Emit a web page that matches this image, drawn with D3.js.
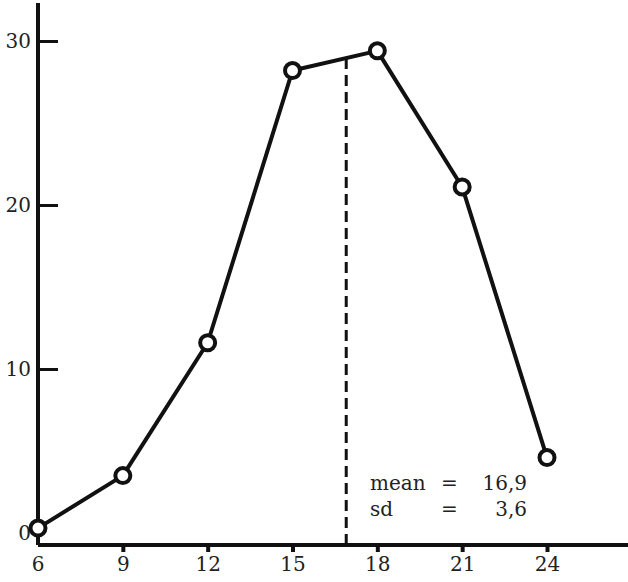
<html>
<head>
<meta charset="utf-8">
<script src="https://d3js.org/d3.v7.min.js"></script>
<style>
  body { margin: 0; background: #fff; }
  svg text { font-family: "DejaVu Serif", "Liberation Serif", serif !important; fill: #222; }
</style>
</head>
<body>
<div id="chartContainer"></div>
<script type="text/javascript">

  // data
  var ages = [6, 9, 12, 15, 18, 21, 24];
  var percents = [0.3, 3.5, 11.6, 28.2, 29.4, 21.1, 4.6];
  var xTicks = [6, 9, 12, 15, 18, 21, 24];
  var yTicks = [0, 10, 20, 30];
  var meanValue = 16.9;
  var statLabels = ["mean", "sd"];
  var statValues = ["16,9", "3,6"];

  var width = 628, height = 582;
  var axisY = 545, axisX = 38;
  var fontSize = "20px";

  var svg = d3.select("#chartContainer")
    .append("svg")
    .attr("width", width)
    .attr("height", height);

  var x = d3.scaleLinear().domain([6, 24]).range([38, 547]);
  var y = d3.scaleLinear().domain([0, 30]).range([533, 41]);

  // x axis: line to the right edge, short ticks pointing down
  var xAxis = d3.axisBottom(x)
    .tickValues(xTicks.slice(1))
    .tickSize(7)
    .tickSizeOuter(0)
    .tickFormat(d3.format("d"));
  var gx = svg.append("g")
    .attr("transform", "translate(0," + axisY + ")")
    .call(xAxis)
    .attr("font-family", null)
    .attr("font-size", null);
  gx.select(".domain").remove();
  gx.selectAll("line").attr("stroke", "#111").attr("stroke-width", 4);
  gx.selectAll("text")
    .attr("y", 12)
    .attr("dy", "0.71em")
    .style("font-size", fontSize);

  // tick label for 6 sits under the corner
  gx.append("text")
    .attr("x", x(6))
    .attr("y", 12)
    .attr("dy", "0.71em")
    .attr("text-anchor", "middle")
    .style("font-size", fontSize)
    .text(xTicks[0]);

  svg.append("line")
    .attr("x1", axisX).attr("x2", width)
    .attr("y1", axisY).attr("y2", axisY)
    .attr("stroke", "#111").attr("stroke-width", 4);

  // y axis: ticks pointing inward
  var yAxis = d3.axisLeft(y)
    .tickValues(yTicks)
    .tickSize(-20)
    .tickSizeOuter(0);
  var gy = svg.append("g")
    .attr("transform", "translate(" + axisX + ",0)")
    .call(yAxis)
    .attr("font-family", null)
    .attr("font-size", null);
  gy.select(".domain").remove();
  gy.selectAll("line")
    .attr("stroke", "#111")
    .attr("stroke-width", 3)
    .style("display", function(d) { return d === 0 ? "none" : null; });
  gy.selectAll("text")
    .attr("x", -7)
    .style("font-size", fontSize);

  svg.append("line")
    .attr("x1", axisX).attr("x2", axisX)
    .attr("y1", 3).attr("y2", axisY)
    .attr("stroke", "#111").attr("stroke-width", 4);

  // dashed line at the mean, up to the polyline
  var i = d3.bisectRight(ages, meanValue) - 1;
  var t = (meanValue - ages[i]) / (ages[i + 1] - ages[i]);
  var meanPct = percents[i] + t * (percents[i + 1] - percents[i]);
  svg.append("line")
    .attr("x1", x(meanValue)).attr("x2", x(meanValue))
    .attr("y1", axisY).attr("y2", y(meanPct))
    .attr("stroke", "#111")
    .attr("stroke-width", 3)
    .attr("stroke-dasharray", "11,6");

  // the frequency polygon
  var points = ages.map(function(a, k) { return {age: a, pct: percents[k]}; });
  var line = d3.line()
    .x(function(d) { return x(d.age); })
    .y(function(d) { return y(d.pct); });
  svg.append("path")
    .datum(points)
    .attr("d", line)
    .attr("fill", "none")
    .attr("stroke", "#111")
    .attr("stroke-width", 4)
    .attr("stroke-linejoin", "round");

  svg.selectAll("circle.pt")
    .data(points)
    .enter()
    .append("circle")
    .attr("class", "pt")
    .attr("cx", function(d) { return x(d.age); })
    .attr("cy", function(d) { return y(d.pct); })
    .attr("r", 7.5)
    .attr("fill", "#fff")
    .attr("stroke", "#111")
    .attr("stroke-width", 4);

  // summary text
  var stats = svg.append("g").style("font-size", fontSize);
  statLabels.forEach(function(lab, k) {
    var by = 490 + k * 26;
    stats.append("text").attr("x", 370).attr("y", by).text(lab);
    stats.append("text").attr("x", 441).attr("y", by).text("=");
    stats.append("text").attr("x", 527).attr("y", by)
      .attr("text-anchor", "end").text(statValues[k]);
  });

</script>
</body>
</html>
